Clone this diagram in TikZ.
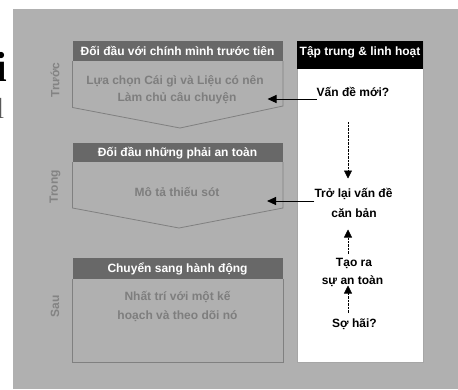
\documentclass[tikz,border=0pt]{standalone}
\usepackage{fontspec}
\setmainfont{Liberation Sans}
\newfontfamily\pageserif{Liberation Serif}
\usetikzlibrary{arrows.meta}
\definecolor{panel}{HTML}{B0B0B0}
\definecolor{headgray}{HTML}{686868}
\definecolor{bodytext}{HTML}{7E7E7E}
\definecolor{sidegray}{HTML}{838383}
\definecolor{edge}{HTML}{808080}
\begin{document}
\begin{tikzpicture}[x=1pt,y=-1pt,
  lbl/.style={font=\fontsize{12}{14}\selectfont\bfseries, inner sep=0pt, anchor=base},
  headtxt/.style={lbl, text=white},
  bodytxt/.style={lbl, text=bodytext},
  keytxt/.style={lbl, text=black},
  sidetxt/.style={font=\fontsize{12}{14}\selectfont\bfseries, text=sidegray, rotate=90, inner sep=0pt},
  outline/.style={draw=edge, line width=0.8pt},
  arr/.style={-{Triangle[length=9pt,width=8pt]}, line width=1pt},
  dotarr/.style={-{Triangle[length=8pt,width=8pt]}, line width=0.6pt, dash pattern=on 0.7pt off 0.7pt},
]
\useasboundingbox (0,0) rectangle (458,389);
\fill[white] (0,0) rectangle (458,389);

% letters of the neighbouring page text
\node[anchor=base east, inner sep=0pt, font=\pageserif\bfseries\fontsize{42}{42}\selectfont] (fragA) at (7.5,81) {i};
\node[anchor=base east, inner sep=0pt, text=black!65, font=\pageserif\fontsize{29}{29}\selectfont] (fragB) at (4.5,118) {l};

% grey panel
\fill[panel] (13,9) rectangle (458,389);

% stage 1
\fill[headgray] (72.5,41) rectangle (283,61);
\draw[outline] (72.5,61) -- (72.5,107.5) -- (180,128) -- (283,106) -- (283,61);
% stage 2
\fill[headgray] (72.5,143) rectangle (283,162);
\draw[outline] (72.5,162) -- (72.5,208) -- (179,228) -- (283,208) -- (283,162);
% stage 3
\fill[headgray] (72.5,258) rectangle (283,279);
\draw[outline] (72.5,279) -- (72.5,362) -- (283,362) -- (283,279);

% headers
\node[headtxt] (h1) at (177.5,55.5) {Đối đầu với chính mình trước tiên};
\node[headtxt] (h2) at (177.5,156.5) {Đối đầu những phải an toàn};
\node[headtxt] (h3) at (177.5,272.5) {Chuyển sang hành động};

% stage contents
\node[bodytxt] (b1a) at (175,84) {Lựa chọn Cái gì và Liệu có nên};
\node[bodytxt] (b1b) at (177,101) {Làm chủ câu chuyện};
\node[bodytxt] (b2) at (177,196) {Mô tả thiếu sót};
\node[bodytxt] (b3a) at (177.5,300) {Nhất trí với một kế};
\node[bodytxt] (b3b) at (177.5,319) {hoạch và theo dõi nó};

% stage names
\node[sidetxt] (s1) at (55,80) {Trước};
\node[sidetxt] (s2) at (55,187) {Trong};
\node[sidetxt] (s3) at (55,306) {Sau};

% focus column
\fill[white, draw=edge!70, line width=0.6pt] (297,41) rectangle (423,362);
\fill[black] (297,41) rectangle (423,69);
\node[headtxt] (fh) at (360,55.5) {Tập trung \& linh hoạt};

\node[keytxt] (k1) at (353,96.5) {Vấn đề mới?};
\node[keytxt] (k2a) at (353.5,197.5) {Trở lại vấn đề};
\node[keytxt] (k2b) at (354,217) {căn bản};
\node[keytxt] (k3a) at (354,266) {Tạo ra};
\node[keytxt] (k3b) at (352.5,284.5) {sự an toàn};
\node[keytxt] (k4) at (354.5,327) {Sợ hãi?};

% arrows into the stages
\coordinate (t1) at (267.5,99);
\coordinate (t2) at (267,201);
\draw[arr] (k1.west |- t1) -- (t1);
\draw[arr] (k2a.west |- t2) -- (t2);

% dotted arrows inside the column
\coordinate (d1s) at (348,122);
\coordinate (d1e) at (348,178.5);
\coordinate (u1s) at (348,254);
\coordinate (u1e) at (348,229.5);
\coordinate (u2s) at (348,313);
\coordinate (u2e) at (348,285.5);
\draw[dotarr] (d1s) -- (d1e);
\draw[dotarr] (u1s) -- (u1e);
\draw[dotarr] (u2s) -- (u2e);
\end{tikzpicture}
\end{document}
